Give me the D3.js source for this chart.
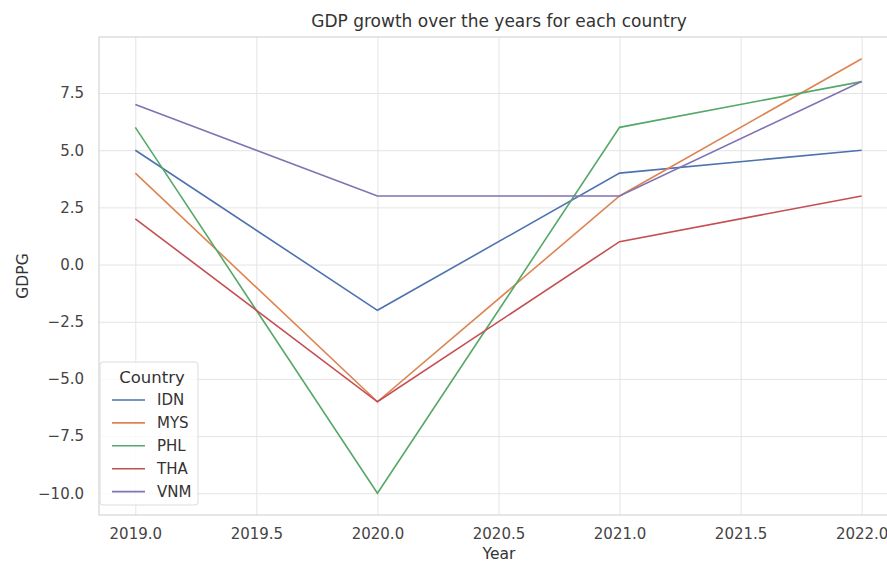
<!DOCTYPE html>
<html>
<head>
<meta charset="utf-8">
<script src="https://cdn.jsdelivr.net/npm/d3@7"></script>
<style>
  body { margin: 0; background: #fff; }
  svg { display: block; font-family: "DejaVu Sans", sans-serif; }
</style>
</head>
<body>
<div id="wrapper"></div>
<script>
// data
const years = [2019, 2020, 2021, 2022]
const countries = ["IDN", "MYS", "PHL", "THA", "VNM"]
const IDN = [5, -2, 4, 5]
const MYS = [4, -6, 3, 9]
const PHL = [6, -10, 6, 8]
const THA = [2, -6, 1, 3]
const VNM = [7, 3, 3, 8]
const xTicks = [2019.0, 2019.5, 2020.0, 2020.5, 2021.0, 2021.5, 2022.0]
const yTicks = [-10, -7.5, -5, -2.5, 0, 2.5, 5, 7.5]

const seriesValues = [IDN, MYS, PHL, THA, VNM]
const series = countries.map((c, i) => ({
  name: c,
  points: years.map((y, j) => ({ year: y, value: seriesValues[i][j] }))
}))

const dimensions = {
  width: 887,
  height: 562,
  margin: { top: 37, right: -11, bottom: 47, left: 99 },
}
dimensions.boundedWidth = dimensions.width - dimensions.margin.left - dimensions.margin.right
dimensions.boundedHeight = dimensions.height - dimensions.margin.top - dimensions.margin.bottom

const wrapper = d3.select("#wrapper")
  .append("svg")
    .attr("width", dimensions.width)
    .attr("height", dimensions.height)
    .style("overflow", "hidden")

const bounds = wrapper.append("g")
  .attr("transform", `translate(${dimensions.margin.left},${dimensions.margin.top})`)

// matplotlib style 5% padding
const xScale = d3.scaleLinear()
  .domain([2019 - 0.15, 2022 + 0.15])
  .range([0, dimensions.boundedWidth])

const yMin = -10, yMax = 9, yPad = (yMax - yMin) * 0.05
const yScale = d3.scaleLinear()
  .domain([yMin - yPad, yMax + yPad])
  .range([dimensions.boundedHeight, 0])

const colorScale = d3.scaleOrdinal()
  .domain(countries)
  .range(["#4c72b0", "#dd8452", "#55a868", "#c44e52", "#8172b3"])

// grid + ticks
const gridColor = "#e4e4e4"
const xAxis = bounds.append("g")
  .attr("transform", `translate(0,${dimensions.boundedHeight})`)
  .call(d3.axisBottom(xScale).tickValues(xTicks).tickFormat(d3.format(".1f"))
    .tickSize(-dimensions.boundedHeight).tickPadding(13))
xAxis.select(".domain").remove()
xAxis.attr("font-family", null).attr("font-size", 15)
xAxis.selectAll("line").attr("stroke", gridColor).attr("stroke-width", 1)
xAxis.selectAll("text").attr("fill", "#444")

const yAxis = bounds.append("g")
  .call(d3.axisLeft(yScale).tickValues(yTicks)
    .tickFormat(d => d3.format(".1f")(d).replace("-", "\u2212"))
    .tickSize(-dimensions.boundedWidth).tickPadding(15))
yAxis.select(".domain").remove()
yAxis.attr("font-family", null).attr("font-size", 15)
yAxis.selectAll("line").attr("stroke", gridColor).attr("stroke-width", 1)
yAxis.selectAll("text").attr("fill", "#444")

// frame
bounds.append("rect")
  .attr("width", dimensions.boundedWidth)
  .attr("height", dimensions.boundedHeight)
  .attr("fill", "none")
  .attr("stroke", "#d5d5d5")
  .attr("stroke-width", 1.2)

// lines
const lineGenerator = d3.line()
  .x(d => xScale(d.year))
  .y(d => yScale(d.value))

bounds.selectAll(".series")
  .data(series)
  .enter().append("path")
    .attr("class", "series")
    .attr("d", d => lineGenerator(d.points))
    .attr("fill", "none")
    .attr("stroke", d => colorScale(d.name))
    .attr("stroke-width", 1.6)

// labels
wrapper.append("text")
  .attr("x", 499)
  .attr("y", 27)
  .attr("text-anchor", "middle")
  .attr("fill", "#333")
  .style("font-size", "17px")
  .text("GDP growth over the years for each country")

wrapper.append("text")
  .attr("x", 499)
  .attr("y", 559)
  .attr("text-anchor", "middle")
  .attr("fill", "#333")
  .style("font-size", "15.5px")
  .text("Year")

wrapper.append("text")
  .attr("transform", `translate(28,${dimensions.margin.top + dimensions.boundedHeight / 2}) rotate(-90)`)
  .attr("text-anchor", "middle")
  .attr("fill", "#333")
  .style("font-size", "15.5px")
  .text("GDPG")

// legend
const legend = bounds.append("g")
  .attr("transform", "translate(1,325)")

legend.append("rect")
  .attr("width", 98)
  .attr("height", 143)
  .attr("rx", 3)
  .attr("fill", "rgba(255,255,255,0.8)")
  .attr("stroke", "#dcdcdc")

legend.append("text")
  .attr("x", 52)
  .attr("y", 21)
  .attr("text-anchor", "middle")
  .attr("fill", "#333")
  .style("font-size", "16.5px")
  .text("Country")

const legendItems = legend.selectAll(".item")
  .data(countries)
  .enter().append("g")
    .attr("transform", (d, i) => `translate(0,${38 + i * 22.9})`)

legendItems.append("line")
  .attr("x1", 12).attr("x2", 45)
  .attr("stroke", d => colorScale(d))
  .attr("stroke-width", 1.6)

legendItems.append("text")
  .attr("x", 57)
  .attr("dy", "0.35em")
  .attr("fill", "#333")
  .style("font-size", "15px")
  .text(d => d)
</script>
</body>
</html>
